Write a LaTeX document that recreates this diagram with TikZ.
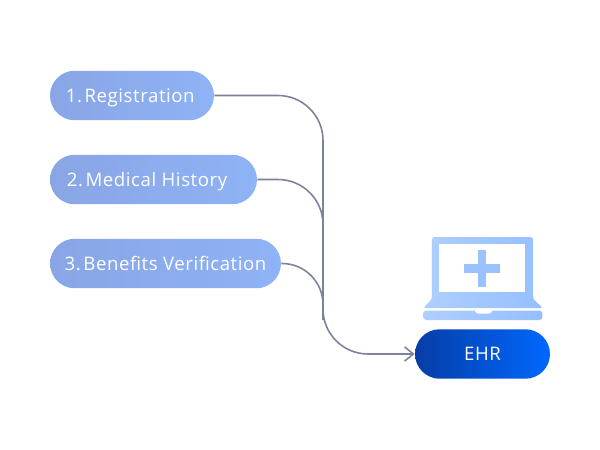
\documentclass[tikz,border=0pt]{standalone}
\usepackage{fontspec}
\setmainfont[LetterSpace=3]{Open Sans}
\usetikzlibrary{arrows.meta}
\definecolor{pillleft}{HTML}{89A5E5}
\definecolor{pillright}{HTML}{8EB3F6}
\definecolor{ehrleft}{HTML}{063DA6}
\definecolor{ehrright}{HTML}{0068FF}
\definecolor{lapleft}{HTML}{AFCFFF}
\definecolor{lapright}{HTML}{94BFFF}
\definecolor{linkgray}{HTML}{7C8299}
\tikzset{
    stagepill/.style={rounded corners=0.495cm, minimum height=0.99cm, inner sep=0pt, text=white,
        font=\fontsize{10.6}{12}\selectfont, text height=8pt, text depth=0.6pt,
        left color=pillleft, right color=pillright},
    ehrpill/.style={stagepill, left color=ehrleft, right color=ehrright},
    linkline/.style={draw=linkgray, line width=0.9pt, rounded corners=0.9cm}
}
\begin{document}
\begin{tikzpicture}[x=0.02cm, y=-0.02cm]
    \useasboundingbox (0,0) rectangle (600,450);
    % stages
    \node[stagepill, minimum width=3.28cm] (registration) at (132,95.5) {1.\kern1.5pt Registration\kern2pt};
    \node[stagepill, minimum width=4.14cm] (history) at (153.5,179.5) {2.\kern1.5pt Medical History\kern7.4pt};
    \node[stagepill, minimum width=4.62cm] (benefits) at (165.5,263.5) {3.\kern1.5pt Benefits Verification};
    \node[ehrpill, minimum width=2.7cm] (ehr) at (482.5,354) {EHR};
    % connectors
    \coordinate (trunk) at (323,354);
    \coordinate (joinhistory) at (323,235);
    \coordinate (joinbenefits) at (323,320);
    \draw[linkline] (history.east) -| (joinhistory);
    \draw[linkline, rounded corners=0.82cm] (benefits.east) -| (joinbenefits);
    \draw[linkline, -{Straight Barb[length=5pt,width=8pt]}] (registration.east) -| (trunk) -- (ehr.west);
    % laptop
    \shade[left color=lapleft, right color=lapright, rounded corners=1.5pt] (432,299) -- (432,237) -- (533,237) -- (533,299) -- (543,308) -- (423,308) -- cycle;
    \fill[white] (439,244) rectangle (525,292);
    \fill[lapright!80!lapleft] (464,264) rectangle (500,272.5);
    \fill[lapright!80!lapleft] (478,250) rectangle (486,287);
    \shade[left color=lapleft, right color=lapright, rounded corners=2pt] (423,310.5) -- (423,320) -- (542.5,320) -- (542.5,310.5) -- cycle;
    \fill[white, rounded corners=1pt] (474,310) -- (476,313.5) -- (491,313.5) -- (493,310) -- cycle;
\end{tikzpicture}
\end{document}
